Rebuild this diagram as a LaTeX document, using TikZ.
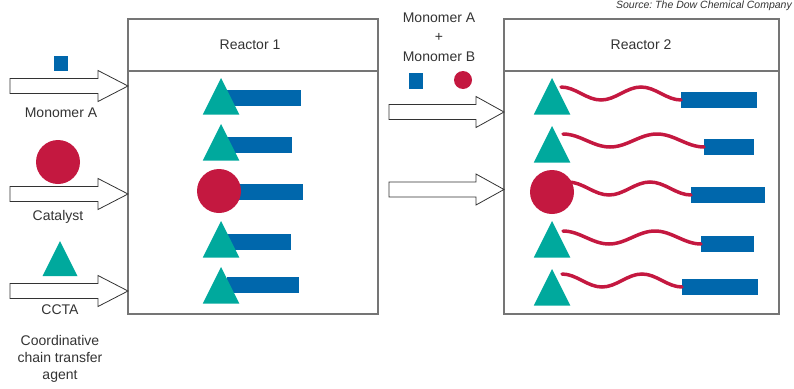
\documentclass[tikz,border=0pt]{standalone}
\usepackage{fontspec}
\setmainfont{Liberation Sans}
\usetikzlibrary{shapes.geometric}
\definecolor{ptblue}{HTML}{0067AC}
\definecolor{ptred}{HTML}{C41840}
\definecolor{ptteal}{HTML}{00A99D}
\definecolor{boxgray}{HTML}{757575}
\definecolor{txtgray}{HTML}{333333}
\tikzset{
  lbl/.style={text=txtgray, font=\fontsize{14}{16.7}\selectfont, inner sep=0},
  reactorbox/.style={draw=boxgray, line width=1.4},
  feed/.style={draw=txtgray, fill=white, line width=0.8, line join=miter},
  cctatri/.style={isosceles triangle, isosceles triangle stretches, shape border rotate=90,
    minimum width=36.5, minimum height=36.5, inner sep=0, outer sep=0, fill=ptteal, anchor=apex},
  catdot/.style={circle, fill=ptred, minimum size=44, inner sep=0, outer sep=0},
  monosq/.style={rectangle, fill=ptblue, minimum width=14, minimum height=15, inner sep=0},
  monobar/.style={rectangle, fill=ptblue, minimum height=16, inner sep=0, outer sep=0, anchor=west},
  chain/.style={draw=ptred, line width=3.5, line cap=round}
}
% hollow feed arrow: start x, head x, tip x, mid y
\newcommand{\feedarrow}[4]{%
  \draw[feed] (#1,#4-7.5) -- (#2,#4-7.5) -- (#2,#4-15.5) -- (#3,#4)
    -- (#2,#4+15.5) -- (#2,#4+7.5) -- (#1,#4+7.5) -- cycle;}
\begin{document}
\begin{tikzpicture}[x=1pt,y=-1pt]
\useasboundingbox (0,0) rectangle (794,388);

% source
\node[anchor=north east, inner sep=0, text=txtgray, font=\fontsize{10.5}{12}\selectfont\itshape\frenchspacing]
  (src) at (792,1) {Source: The Dow Chemical Company};

% reactors
\draw[reactorbox] (128,19) rectangle (378,314);
\draw[reactorbox] (128,71) -- (378,71);
\draw[reactorbox] (504,19) rectangle (779,314);
\draw[reactorbox] (504,71) -- (779,71);
\node[lbl] (hdr1) at (250,45) {Reactor 1};
\node[lbl] (hdr2) at (641,45) {Reactor 2};

% feeds into reactor 1
\node[monosq] (feedA) at (61,63) {};
\feedarrow{10}{98}{128}{86}
\node[lbl] (lblA) at (61,113) {Monomer A};
\node[catdot] (feedcat) at (58,162) {};
\feedarrow{10}{98}{128}{194}
\node[lbl] (lblcat) at (58,217) {Catalyst};
\node[cctatri, minimum width=35, minimum height=35] (feedccta) at (60,241) {};
\feedarrow{10}{98}{128}{291}
\node[lbl] (lblccta) at (60,310) {CCTA};
\node[lbl, align=center] (lblcoord) at (60,359) {Coordinative\\chain transfer\\agent};

% feeds into reactor 2
\node[lbl, align=center, font=\fontsize{14}{19.3}\selectfont] (lblAB) at (439,37) {Monomer A\\+\\Monomer B};
\node[monosq, minimum height=16] (feedA2) at (416,81) {};
\node[catdot, minimum size=18] (feedB2) at (463,80) {};
\feedarrow{389}{476}{504}{112}
\feedarrow{389}{476}{504}{189.5}

% reactor 1 chains
\foreach \n/\ya/\yb/\xr in {1/78/98/301, 2/124/145/292, 4/221/242/291, 5/267/285/299} {
  \node[monobar, minimum width=\xr-227] (r1bar\n) at (227,\yb) {};
  \node[cctatri] (r1tri\n) at (221,\ya) {};
}
\node[monobar, minimum width=65] (r1bar3) at (238,191.5) {};
\node[catdot] (r1cat) at (219,191) {};

% reactor 2 chains
\foreach \n/\ya/\yb/\xl/\xr/\q in {1/78/100/681/757/20, 2/126/147/704/754/23.5,
    4/221/244/701/754/23, 5/269/287/682/758/20} {
  \node[monobar, minimum width=\xr-\xl] (r2bar\n) at (\xl,\yb) {};
  \draw[chain] (r2bar\n.west) cos ++(-\q,-6.5) sin ++(-\q,-6.5) cos ++(-\q,6.5)
    sin ++(-\q,6.5) cos ++(-\q,-6.5) sin ++(-\q,-6.5);
  \node[cctatri] (r2tri\n) at (552,\ya) {};
}
\node[monobar, minimum width=74] (r2bar3) at (691,195) {};
\draw[chain] (r2bar3.west) cos ++(-20.5,-6.5) sin ++(-20.5,-6.5) cos ++(-20.5,6.5)
  sin ++(-20.5,6.5) cos ++(-20.5,-6.5) sin ++(-20.5,-6.5);
\node[catdot] (r2cat) at (552,192) {};

\end{tikzpicture}
\end{document}
